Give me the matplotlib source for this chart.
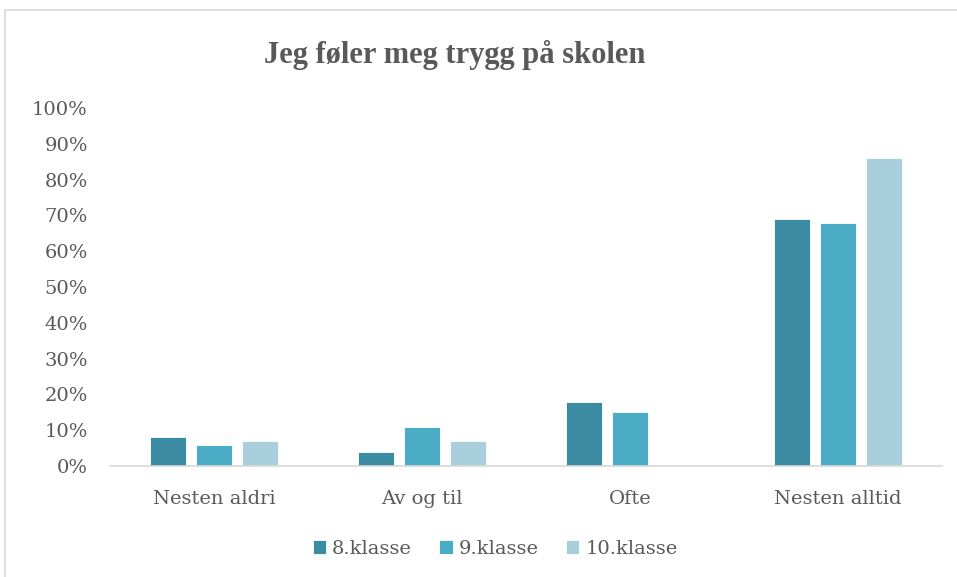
import matplotlib.pyplot as plt
import numpy as np
from matplotlib.patches import Rectangle

categories = ["Nesten aldri", "Av og til", "Ofte", "Nesten alltid"]
series = ["8.klasse", "9.klasse", "10.klasse"]
values = {
    "8.klasse": [8, 4, 18, 69],
    "9.klasse": [6, 11, 15, 68],
    "10.klasse": [7, 7, 0, 86],
}
colors = ["#3B8BA3", "#4BACC6", "#A9CEDC"]
yticks = [0, 10, 20, 30, 40, 50, 60, 70, 80, 90, 100]

plt.rcParams["font.family"] = ["DejaVu Serif"]
text_col = "#595959"

fig = plt.figure(figsize=(9.57, 5.77), dpi=100)
ax = fig.add_axes([110 / 957, 1 - 466 / 577, 832 / 957, 358 / 577])

# chart frame
fig.patches.append(Rectangle((5 / 957, -0.1), 1.2, 1 - 10 / 577 + 0.1,
                             transform=fig.transFigure, fill=False,
                             edgecolor="#D9D9D9", lw=1.2))

x = np.arange(len(categories))
width = 36 / 208
step = 46 / 208
for i, (name, col) in enumerate(zip(series, colors)):
    ax.bar(x + (i - 1) * step, values[name], width, color=col,
           edgecolor="white", linewidth=0.6, label=name, zorder=2)

ax.set_xlim(-0.5, 3.5)
ax.set_ylim(0, 100)
ax.set_yticks(yticks)
ax.set_yticklabels([f"{t}%" for t in yticks])
ax.set_xticks(x)
ax.set_xticklabels(categories)
ax.tick_params(axis="both", length=0, labelsize=14, colors=text_col)
ax.tick_params(axis="y", pad=16)
ax.tick_params(axis="x", pad=17)

for s in ["top", "right", "left"]:
    ax.spines[s].set_visible(False)
ax.spines["bottom"].set_color("#D9D9D9")
ax.spines["bottom"].set_linewidth(1.2)

fig.text(455 / 957, 1 - 55 / 577, "Jeg føler meg trygg på skolen", ha="center",
         va="center", fontsize=22, fontweight="bold", color=text_col,
         family="Liberation Serif")

fig.legend(loc="center", bbox_to_anchor=(495 / 957, 1 - 549 / 577), ncol=3,
           frameon=False, fontsize=14, labelcolor=text_col, handlelength=0.7,
           handleheight=0.7, handletextpad=0.3, columnspacing=1.4)

fig.savefig("out.png", dpi=100)
